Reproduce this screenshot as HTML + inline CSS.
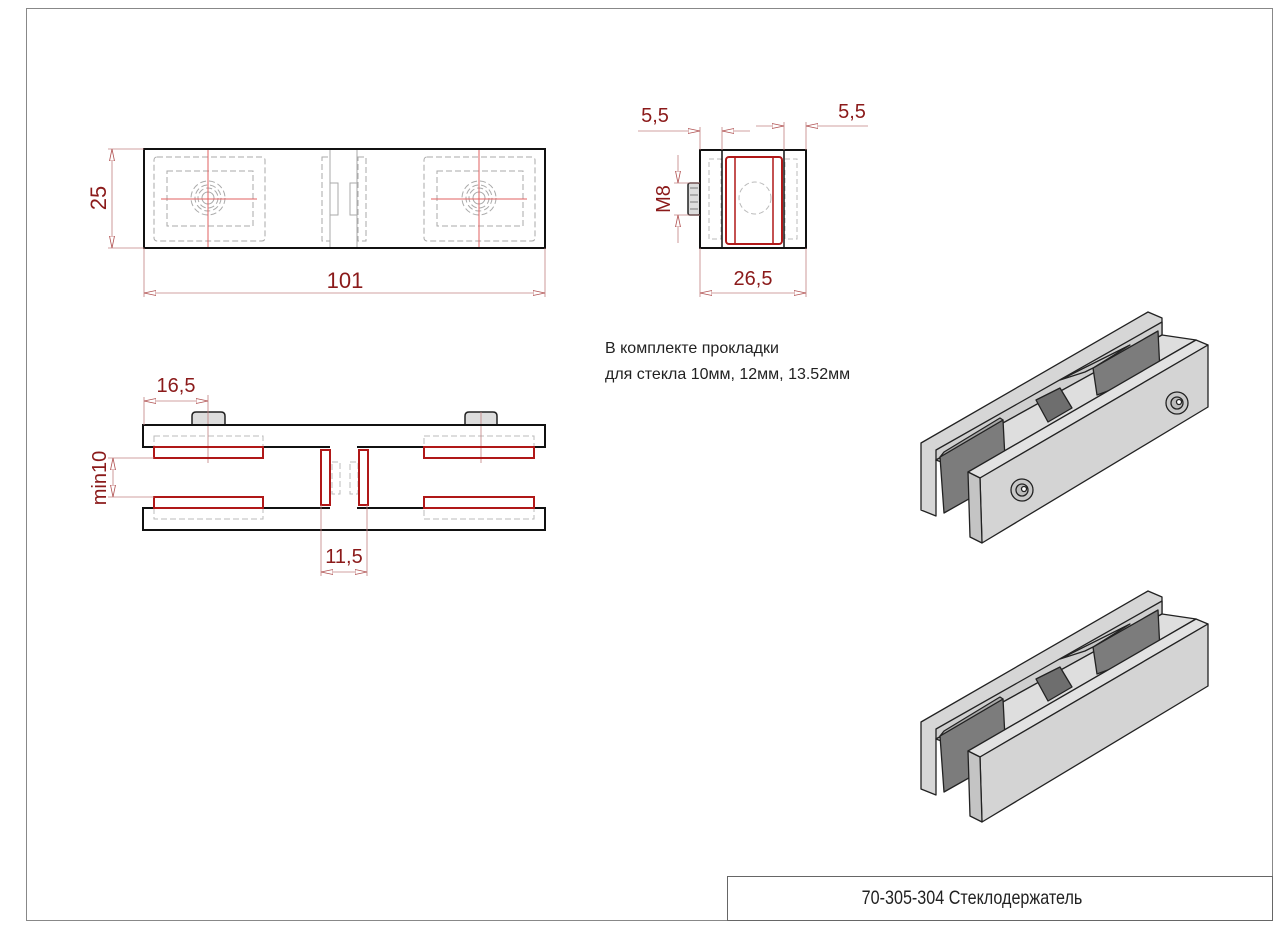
<!DOCTYPE html>
<html><head><meta charset="utf-8"><style>
html,body{margin:0;padding:0;background:#fff;}
svg{display:block;}
text{font-family:"Liberation Sans","DejaVu Sans",sans-serif;}
</style></head><body>
<svg width="1280" height="926" viewBox="0 0 1280 926" xmlns="http://www.w3.org/2000/svg">
<defs>
<marker id="a" viewBox="0 0 12 6" refX="12" refY="3" markerWidth="12" markerHeight="6" orient="auto-start-reverse" markerUnits="userSpaceOnUse">
<path d="M0,0.5 L12,3 L0,5.5 Z" fill="#fff" stroke="#b05050" stroke-width="0.8"/></marker>
</defs>
<rect x="0" y="0" width="1280" height="926" fill="#fff"/>
<!-- frame -->
<rect x="26.5" y="8.5" width="1246" height="912" fill="none" stroke="#888" stroke-width="1"/>
<rect x="727.5" y="876.5" width="545" height="44" fill="none" stroke="#666" stroke-width="1"/>
<text x="972" y="904" font-size="19" text-anchor="middle" fill="#222" transform="translate(972,0) scale(0.85,1) translate(-972,0)">70-305-304 Стеклодержатель</text>

<!-- TOP VIEW -->
<g fill="none" stroke="#aaa" stroke-width="1" stroke-dasharray="6,3">
<rect x="154" y="157" width="111" height="84" rx="3"/>
<rect x="167" y="171" width="86" height="55"/>
<rect x="424" y="157" width="111" height="84" rx="3"/>
<rect x="437" y="171" width="86" height="55"/>
<circle cx="208" cy="198" r="17"/><circle cx="208" cy="198" r="13"/><circle cx="208" cy="198" r="10"/>
<circle cx="479" cy="198" r="17"/><circle cx="479" cy="198" r="13"/><circle cx="479" cy="198" r="10"/>
<rect x="322" y="157" width="8" height="84"/><rect x="358" y="157" width="8" height="84"/>
</g>
<g fill="none" stroke="#aaa" stroke-width="1">
<circle cx="208" cy="198" r="6"/><circle cx="479" cy="198" r="6"/>
<line x1="330" y1="149" x2="330" y2="248"/><line x1="357" y1="149" x2="357" y2="248"/>
<rect x="330" y="183" width="8" height="32"/><rect x="350" y="183" width="7" height="32"/>
</g>
<g stroke="#e06060" stroke-width="1">
<line x1="161" y1="199" x2="257" y2="199"/><line x1="208" y1="149" x2="208" y2="248"/>
<line x1="431" y1="199" x2="527" y2="199"/><line x1="479" y1="149" x2="479" y2="248"/>
</g>
<rect x="144" y="149" width="401" height="99" fill="none" stroke="#111" stroke-width="2"/>
<g stroke="#c08080" stroke-width="0.8" fill="none">
<line x1="108" y1="149" x2="144" y2="149"/><line x1="108" y1="248" x2="144" y2="248"/>
<line x1="112" y1="149" x2="112" y2="248" marker-start="url(#a)" marker-end="url(#a)"/>
<line x1="144" y1="248" x2="144" y2="297"/><line x1="545" y1="248" x2="545" y2="297"/>
<line x1="144" y1="293" x2="545" y2="293" marker-start="url(#a)" marker-end="url(#a)"/>
</g>
<text x="0" y="0" font-size="22" fill="#8b1a1a" text-anchor="middle" transform="translate(106,198) rotate(-90)">25</text>
<text x="345" y="288" font-size="22" fill="#8b1a1a" text-anchor="middle">101</text>

<!-- SIDE VIEW -->
<g fill="none" stroke="#bbb" stroke-width="1" stroke-dasharray="5,3">
<rect x="709" y="159" width="12" height="80"/><rect x="785" y="159" width="12" height="80"/>
<circle cx="755" cy="198" r="16"/>
</g>
<rect x="688" y="183" width="12" height="32" rx="2" fill="#ddd" stroke="#222" stroke-width="1.5"/>
<g stroke="#333" stroke-width="0.6"><line x1="690" y1="188" x2="698" y2="188"/><line x1="690" y1="195" x2="698" y2="195"/><line x1="690" y1="202" x2="698" y2="202"/><line x1="690" y1="209" x2="698" y2="209"/></g>
<rect x="700" y="150" width="106" height="98" fill="none" stroke="#111" stroke-width="2"/>
<line x1="722" y1="150" x2="722" y2="248" stroke="#111" stroke-width="1.5"/>
<line x1="784" y1="150" x2="784" y2="248" stroke="#111" stroke-width="1.5"/>
<rect x="726" y="157" width="56" height="87" rx="3" fill="none" stroke="#b01818" stroke-width="2"/>
<line x1="735" y1="157" x2="735" y2="244" stroke="#b01818" stroke-width="1.5"/>
<line x1="773" y1="157" x2="773" y2="244" stroke="#b01818" stroke-width="1.5"/>
<g stroke="#c08080" stroke-width="0.8" fill="none">
<line x1="674" y1="183" x2="700" y2="183"/><line x1="674" y1="215" x2="700" y2="215"/>
<line x1="678" y1="155" x2="678" y2="183" marker-end="url(#a)"/><line x1="678" y1="243" x2="678" y2="215" marker-end="url(#a)"/>
<line x1="700" y1="127" x2="700" y2="150"/><line x1="722" y1="127" x2="722" y2="150"/>
<line x1="638" y1="131" x2="700" y2="131" marker-end="url(#a)"/><line x1="750" y1="131" x2="722" y2="131" marker-end="url(#a)"/>
<line x1="784" y1="122" x2="784" y2="150"/><line x1="806" y1="122" x2="806" y2="150"/>
<line x1="756" y1="126" x2="784" y2="126" marker-end="url(#a)"/><line x1="868" y1="126" x2="806" y2="126" marker-end="url(#a)"/>
<line x1="700" y1="248" x2="700" y2="297"/><line x1="806" y1="248" x2="806" y2="297"/>
<line x1="700" y1="293" x2="806" y2="293" marker-start="url(#a)" marker-end="url(#a)"/>
</g>
<text x="0" y="0" font-size="20" fill="#8b1a1a" text-anchor="middle" transform="translate(670,199) rotate(-90)">M8</text>
<text x="655" y="122" font-size="20" fill="#8b1a1a" text-anchor="middle">5,5</text>
<text x="852" y="118" font-size="20" fill="#8b1a1a" text-anchor="middle">5,5</text>
<text x="753" y="285" font-size="20" fill="#8b1a1a" text-anchor="middle">26,5</text>

<!-- NOTE -->
<text x="605" y="353" font-size="16" fill="#222">В комплекте прокладки</text>
<text x="605" y="379" font-size="16" fill="#222">для стекла 10мм, 12мм, 13.52мм</text>

<!-- SECTION VIEW -->
<g fill="none" stroke="#bbb" stroke-width="1" stroke-dasharray="6,3">
<rect x="154" y="436" width="109" height="11"/><rect x="154" y="508" width="109" height="11"/>
<rect x="424" y="436" width="110" height="11"/><rect x="424" y="508" width="110" height="11"/>
<rect x="332" y="462" width="8" height="32"/><rect x="350" y="462" width="8" height="32"/>
</g>
<g fill="#ddd" stroke="#222" stroke-width="1.5">
<path d="M192,425 V416 Q192,412 196,412 H221 Q225,412 225,416 V425 Z"/>
<path d="M465,425 V416 Q465,412 469,412 H493 Q497,412 497,416 V425 Z"/>
</g>
<line x1="208" y1="395" x2="208" y2="463" stroke="#c08080" stroke-width="0.8"/>
<line x1="481" y1="412" x2="481" y2="463" stroke="#c08080" stroke-width="0.8"/>
<g fill="none" stroke="#111" stroke-width="2">
<path d="M330,447 H143 V425 H545 V447 H357"/>
<path d="M330,508 H143 V530 H545 V508 H357"/>
</g>
<g fill="none" stroke="#b01818" stroke-width="2">
<rect x="154" y="447" width="109" height="11"/><rect x="154" y="497" width="109" height="11"/>
<rect x="424" y="447" width="110" height="11"/><rect x="424" y="497" width="110" height="11"/>
<rect x="321" y="450" width="9" height="55"/><rect x="359" y="450" width="9" height="55"/>
</g>
<g stroke="#c08080" stroke-width="0.8" fill="none">
<line x1="144" y1="397" x2="144" y2="425"/>
<line x1="144" y1="401" x2="208" y2="401" marker-start="url(#a)" marker-end="url(#a)"/>
<line x1="108" y1="458" x2="154" y2="458"/><line x1="108" y1="497" x2="154" y2="497"/>
<line x1="113" y1="458" x2="113" y2="497" marker-start="url(#a)" marker-end="url(#a)"/>
<line x1="321" y1="505" x2="321" y2="576"/><line x1="367" y1="505" x2="367" y2="576"/>
<line x1="321" y1="572" x2="367" y2="572" marker-start="url(#a)" marker-end="url(#a)"/>
</g>
<text x="176" y="392" font-size="20" fill="#8b1a1a" text-anchor="middle">16,5</text>
<text x="0" y="0" font-size="20" fill="#8b1a1a" text-anchor="middle" transform="translate(106,478) rotate(-90)">min10</text>
<text x="344" y="563" font-size="20" fill="#8b1a1a" text-anchor="middle">11,5</text>

<!-- ISO 1 -->
<g id="iso" stroke="#222" stroke-width="1.3" stroke-linejoin="round">
<polygon points="921,443 1148,312 1162,318 1162,335 936,460 936,516 921,510" fill="#d6d6d6"/>
<polygon points="936,450 1162,322 1162,335 936,460" fill="#cfcfcf"/>
<polygon points="936,460 1162,335 1196,340 968,472" fill="#dedede"/>
<polygon points="940,457 1003,420 1006,478 944,513" fill="#7c7c7c"/>
<polygon points="944,452 1000,418 1003,420 940,457" fill="#a8a8a8"/>
<polygon points="1093,368 1158,331 1160,372 1097,395" fill="#7c7c7c"/>
<polygon points="1060,380 1130,345 1093,368 1085,372" fill="#c8c8c8"/>
<polygon points="1036,400 1060,388 1072,408 1048,422" fill="#6e6e6e"/>
<polygon points="968,472 1196,340 1208,345 980,478" fill="#e2e2e2"/>
<polygon points="980,478 1208,345 1208,407 982,543" fill="#d4d4d4"/>
<polygon points="968,472 980,478 982,543 970,537" fill="#c4c4c4"/>
<g class="bolts">
<circle cx="1022" cy="490" r="11" fill="#c8c8c8"/><circle cx="1022" cy="490" r="6" fill="#bbb"/><circle cx="1024" cy="489" r="2.5" fill="#fff"/>
<circle cx="1177" cy="403" r="11" fill="#c8c8c8"/><circle cx="1177" cy="403" r="6" fill="#bbb"/><circle cx="1179" cy="402" r="2.5" fill="#fff"/>
</g>
</g>
<!-- ISO 2 -->
<g transform="translate(0,279)" stroke="#222" stroke-width="1.3" stroke-linejoin="round">
<polygon points="921,443 1148,312 1162,318 1162,335 936,460 936,516 921,510" fill="#d6d6d6"/>
<polygon points="936,450 1162,322 1162,335 936,460" fill="#cfcfcf"/>
<polygon points="936,460 1162,335 1196,340 968,472" fill="#dedede"/>
<polygon points="940,457 1003,420 1006,478 944,513" fill="#7c7c7c"/>
<polygon points="944,452 1000,418 1003,420 940,457" fill="#a8a8a8"/>
<polygon points="1093,368 1158,331 1160,372 1097,395" fill="#7c7c7c"/>
<polygon points="1060,380 1130,345 1093,368 1085,372" fill="#c8c8c8"/>
<polygon points="1036,400 1060,388 1072,408 1048,422" fill="#6e6e6e"/>
<polygon points="968,472 1196,340 1208,345 980,478" fill="#e2e2e2"/>
<polygon points="980,478 1208,345 1208,407 982,543" fill="#d4d4d4"/>
<polygon points="968,472 980,478 982,543 970,537" fill="#c4c4c4"/>
</g>
</svg>
</body></html>
